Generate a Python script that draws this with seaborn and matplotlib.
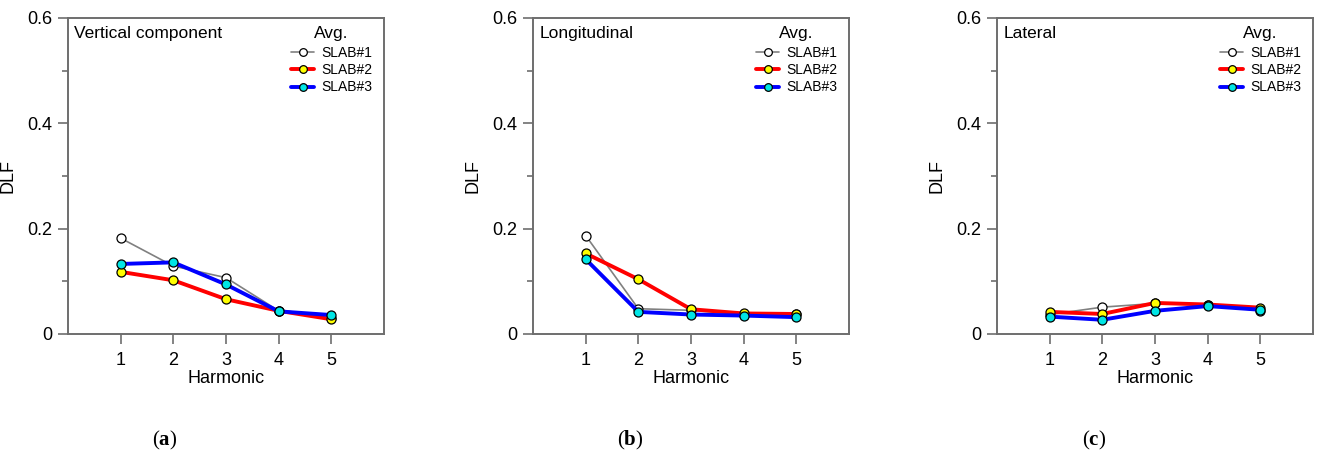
import numpy as np
import pandas as pd
import seaborn as sns
import matplotlib.pyplot as plt
from matplotlib.ticker import MultipleLocator

# Data
harmonics = [1, 2, 3, 4, 5]
slabs = ["SLAB#1", "SLAB#2", "SLAB#3"]
panel_titles = ["Vertical component", "Longitudinal", "Lateral"]
panel_letters = ["a", "b", "c"]

vertical_slab1 = [0.182, 0.129, 0.107, 0.044, 0.031]
vertical_slab2 = [0.118, 0.102, 0.066, 0.044, 0.028]
vertical_slab3 = [0.133, 0.136, 0.094, 0.043, 0.036]

longitudinal_slab1 = [0.187, 0.048, 0.045, 0.037, 0.038]
longitudinal_slab2 = [0.153, 0.104, 0.047, 0.039, 0.038]
longitudinal_slab3 = [0.142, 0.042, 0.037, 0.035, 0.032]

lateral_slab1 = [0.037, 0.051, 0.058, 0.056, 0.044]
lateral_slab2 = [0.042, 0.038, 0.059, 0.056, 0.050]
lateral_slab3 = [0.033, 0.027, 0.044, 0.053, 0.046]

line_cols = {"SLAB#1": "#808080", "SLAB#2": "#ff0000", "SLAB#3": "#0000ff"}
face_cols = {"SLAB#1": "white", "SLAB#2": "#ffff00", "SLAB#3": "#00e5e5"}
widths = {"SLAB#1": 1.2, "SLAB#2": 2.8, "SLAB#3": 2.8}

# Build long table
rows = []
panels = [
    [vertical_slab1, vertical_slab2, vertical_slab3],
    [longitudinal_slab1, longitudinal_slab2, longitudinal_slab3],
    [lateral_slab1, lateral_slab2, lateral_slab3],
]
for p, series in zip(panel_titles, panels):
    for s, vals in zip(slabs, series):
        for h, v in zip(harmonics, vals):
            rows.append({"panel": p, "slab": s, "harmonic": h, "DLF": v})
df = pd.DataFrame(rows)

sns.set_style("ticks")
plt.rcParams["font.family"] = ["Liberation Sans", "DejaVu Sans"]
plt.rcParams["text.color"] = "black"
plt.rcParams["axes.labelcolor"] = "black"
plt.rcParams["xtick.labelcolor"] = "black"
plt.rcParams["ytick.labelcolor"] = "black"
plt.rcParams["mathtext.fontset"] = "custom"
plt.rcParams["mathtext.bf"] = "Liberation Serif:bold"
plt.rcParams["mathtext.rm"] = "Liberation Serif"

fig = plt.figure(figsize=(13.19, 4.57), dpi=100)
lefts = [68, 533, 997]
spine_col = "#6e6e6e"

for i, p in enumerate(panel_titles):
    ax = fig.add_axes([lefts[i] / 1319, 1 - 334 / 457, 316 / 1319, 316 / 457])
    d = df[df["panel"] == p]
    for s in slabs:
        ds = d[d["slab"] == s]
        sns.lineplot(data=ds, x="harmonic", y="DLF", ax=ax, color=line_cols[s],
                     linewidth=widths[s], marker="o", markersize=6.5,
                     markerfacecolor=face_cols[s], markeredgecolor="black",
                     markeredgewidth=0.9, label=s, zorder=3)
    ax.set_xlim(0, 6)
    ax.set_ylim(0, 0.6)
    ax.set_xticks(harmonics)
    ax.set_yticks([0, 0.2, 0.4, 0.6])
    ax.set_yticklabels(["0", "0.2", "0.4", "0.6"])
    ax.yaxis.set_minor_locator(MultipleLocator(0.1))
    ax.tick_params(axis="both", which="major", length=7, width=1.2, color=spine_col,
                   labelsize=13, direction="out", pad=4)
    ax.tick_params(axis="x", which="major", pad=6)
    ax.tick_params(axis="y", which="minor", length=4, width=1.2, color=spine_col)
    for sp in ax.spines.values():
        sp.set_color(spine_col)
        sp.set_linewidth(1.4)
        sp.set_visible(True)
    ax.set_xlabel("Harmonic", fontsize=13, labelpad=1)
    ax.set_ylabel("DLF", fontsize=13, labelpad=8)
    ax.text(0.02, 0.975, p, transform=ax.transAxes, fontsize=12.5, va="top", ha="left")
    leg = ax.legend(loc="upper right", bbox_to_anchor=(0.99, 1.0), frameon=False,
                    title="Avg.", fontsize=10, title_fontsize=12.5, handlelength=1.7,
                    handletextpad=0.5, labelspacing=0.25, borderaxespad=0.2,
                    markerscale=0.85)
    leg._legend_box.align = "center"
    leg._legend_box.sep = 3
    fig.text((lefts[i] + 97) / 1319, 1 - 440 / 457,
             r"$(\mathbf{%s})$" % panel_letters[i], fontsize=15,
             ha="center", va="center")

fig.savefig("out.png", dpi=100)
